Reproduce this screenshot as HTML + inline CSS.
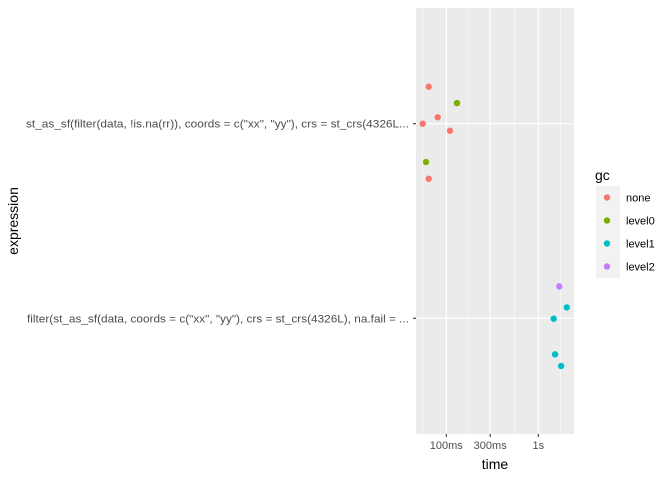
<!DOCTYPE html>
<html><head><meta charset="utf-8"><style>
body{margin:0;background:#fff;}
svg{display:block;font-family:"Liberation Sans",sans-serif;}
</style></head><body>
<svg id="chart" width="672" height="480" viewBox="0 0 672 480">
<rect x="416" y="8" width="158" height="426" fill="#ebebeb"/>
<g id="grid"></g><g id="pts"></g><g id="axes"></g>
<text x="495" y="469" font-size="14" text-anchor="middle" fill="#000">time</text>
<text transform="translate(18,221) rotate(-90)" font-size="14" text-anchor="middle" fill="#000">expression</text>
<g id="legend">
<text x="595" y="180" font-size="14" fill="#000">gc</text>
<rect x="596" y="186" width="24" height="92" fill="#f2f2f2"/>
</g>
</svg>
<script>
const categories = ['filter(st_as_sf(data, coords = c("xx", "yy"), crs = st_crs(4326L), na.fail = ...', 'st_as_sf(filter(data, !is.na(rr)), coords = c("xx", "yy"), crs = st_crs(4326L...'];
const pointCat = [1,1,1,1,1,1,1,0,0,0,0,0];
const pointTime = [0.0644,0.1307,0.0806,0.0554,0.1097,0.0602,0.0644,1.69,2.04,1.47,1.52,1.77];
const pointJitter = [0.19,0.106,0.033,0,-0.036,-0.197,-0.283,0.164,0.056,-0.002,-0.185,-0.245];
const pointGc = ['none','level0','none','none','none','level0','none','level2','level1','level1','level1','level1'];
const gcLevels = ['none','level0','level1','level2'];
const gcColors = ['#F8766D','#7CAE00','#00BFC4','#C77CFF'];
const xTickValues = [0.1,0.3,1];
const xTickLabels = ['100ms','300ms','1s'];
const xMinorValues = [0.0548,0.1732,0.5477,1.732];

const NS='http://www.w3.org/2000/svg';
function el(tag,attrs,parent){const e=document.createElementNS(NS,tag);for(const k in attrs)e.setAttribute(k,attrs[k]);parent.appendChild(e);return e;}
const xScale=t=>446.3+92*Math.log10(t/0.1);
const yScale=c=>318.3-194.6*c;
const grid=document.getElementById('grid'),pts=document.getElementById('pts'),axes=document.getElementById('axes'),legend=document.getElementById('legend');
xMinorValues.forEach(v=>{const l=el('line',{x1:xScale(v),x2:xScale(v),y1:8,y2:434,stroke:'#fff','stroke-width':0.6},grid);

});
xTickValues.forEach((v,i)=>{const x=xScale(v);
const l=el('line',{x1:x,x2:x,y1:8,y2:434,stroke:'#fff','stroke-width':1.1},grid);


const tk=el('line',{x1:x,x2:x,y1:434,y2:437,stroke:'#333','stroke-width':1.1},axes);


const t=el('text',{x:x,y:449,'font-size':11,'text-anchor':'middle',fill:'#4d4d4d'},axes);t.textContent=xTickLabels[i];

});
categories.forEach((c,i)=>{const y=yScale(i);
const l=el('line',{x1:416,x2:574,y1:y,y2:y,stroke:'#fff','stroke-width':1.1},grid);


const tk=el('line',{x1:413,x2:416,y1:y,y2:y,stroke:'#333','stroke-width':1.1},axes);


const t=el('text',{x:409,y:y+4,'font-size':11,'text-anchor':'end',fill:'#4d4d4d',textLength:i===0?382:383,lengthAdjust:'spacingAndGlyphs'},axes);t.textContent=c;

});
pointTime.forEach((v,i)=>{const c=el('circle',{cx:xScale(v),cy:yScale(pointCat[i]+pointJitter[i]),r:3.2,fill:gcColors[gcLevels.indexOf(pointGc[i])]},pts);

});
gcLevels.forEach((g,i)=>{const y=197.5+23*i;
const c=el('circle',{cx:607,cy:y,r:3.2,fill:gcColors[i]},legend);


const t=el('text',{x:626,y:y+4,'font-size':11,fill:'#000'},legend);t.textContent=g;

});
</script>
</body></html>
